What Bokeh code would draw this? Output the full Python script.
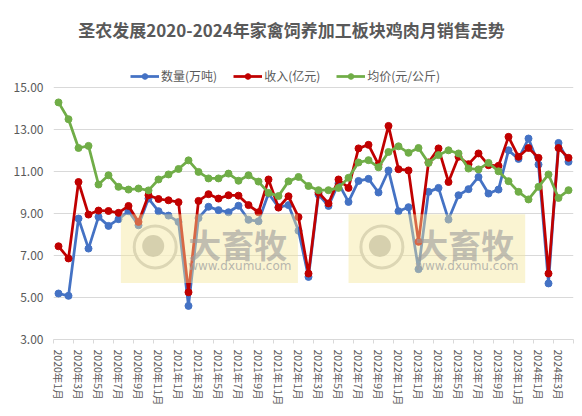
from bokeh.plotting import figure
from bokeh.models import (Range1d, FixedTicker, PrintfTickFormatter, Legend, LegendItem,
                          BoxAnnotation, Label)
from bokeh.embed import file_html
from bokeh.resources import INLINE

months = [
    "2020年1月", "2020年2月", "2020年3月", "2020年4月", "2020年5月", "2020年6月",
    "2020年7月", "2020年8月", "2020年9月", "2020年10月", "2020年11月", "2020年12月",
    "2021年1月", "2021年2月", "2021年3月", "2021年4月", "2021年5月", "2021年6月",
    "2021年7月", "2021年8月", "2021年9月", "2021年10月", "2021年11月", "2021年12月",
    "2022年1月", "2022年2月", "2022年3月", "2022年4月", "2022年5月", "2022年6月",
    "2022年7月", "2022年8月", "2022年9月", "2022年10月", "2022年11月", "2022年12月",
    "2023年1月", "2023年2月", "2023年3月", "2023年4月", "2023年5月", "2023年6月",
    "2023年7月", "2023年8月", "2023年9月", "2023年10月", "2023年11月", "2023年12月",
    "2024年1月", "2024年2月", "2024年3月", "2024年4月",
]

quantity = [5.19, 5.08, 8.76, 7.33, 8.84, 8.41, 8.73, 9.11, 8.44, 9.71, 9.11, 8.90,
            8.60, 4.60, 8.78, 9.32, 9.16, 9.06, 9.37, 8.70, 8.63, 9.95, 9.30, 9.40,
            8.18, 5.98, 9.90, 9.36, 10.43, 9.55, 10.55, 10.65, 10.00, 11.05, 9.11, 9.30,
            6.35, 10.03, 10.22, 8.71, 9.87, 10.16, 10.74, 9.95, 10.14, 12.01, 11.60, 12.57,
            11.33, 5.67, 12.36, 11.46]

revenue = [7.44, 6.86, 10.50, 8.95, 9.14, 9.12, 9.03, 9.36, 8.60, 9.87, 9.69, 9.63,
           9.54, 5.25, 9.60, 9.92, 9.71, 9.87, 9.85, 9.40, 9.06, 10.62, 9.28, 9.82,
           8.83, 6.14, 10.00, 9.48, 10.62, 10.22, 12.10, 12.27, 11.33, 13.17, 11.11, 11.05,
           7.65, 11.43, 12.10, 10.50, 11.70, 11.35, 11.86, 11.30, 11.27, 12.65, 11.70, 12.12,
           11.65, 6.14, 12.12, 11.65]

price = [14.29, 13.49, 12.12, 12.22, 10.38, 10.82, 10.27, 10.14, 10.19, 10.10, 10.62, 10.86,
         11.12, 11.53, 10.98, 10.67, 10.67, 10.90, 10.56, 10.82, 10.52, 9.98, 9.83, 10.53,
         10.74, 10.31, 10.11, 10.11, 10.22, 10.70, 11.43, 11.54, 11.20, 11.93, 12.20, 11.89,
         12.12, 11.41, 11.78, 12.01, 11.86, 11.14, 11.10, 11.41, 11.01, 10.54, 10.03, 9.67,
         10.27, 10.86, 9.74, 10.11]

series_names = ["数量(万吨)", "收入(亿元)", "均价(元/公斤)"]
title_text = "圣农发展2020-2024年家禽饲养加工板块鸡肉月销售走势"
y_ticks = [3, 5, 7, 9, 11, 13, 15]

FONT = "Noto Sans CJK SC"
GRAY = "#595959"
GRID = "#d9d9d9"
COLORS = ["#4472C4", "#C00000", "#70AD47"]

FRAME_H = 329          # frame extends above the 15.00 gridline to hold title and legend
Y_TOP = 3 + FRAME_H / 21.0
x = list(range(len(months)))

p = figure(width=574, height=408, output_backend="svg", toolbar_location=None,
           x_range=Range1d(-0.5, len(months) - 0.5), y_range=Range1d(3, Y_TOP),
           min_border_left=53, min_border_right=1, min_border_top=10,
           min_border_bottom=69, title=None)
p.outline_line_color = None
p.background_fill_color = "white"
p.border_fill_color = "white"

# x axis
xa = p.xaxis[0]
xa.ticker = FixedTicker(ticks=list(range(0, len(months), 2)),
                        minor_ticks=[k - 0.5 for k in range(0, len(months) + 1, 2)])
xa.major_label_overrides = {i: months[i] for i in range(0, len(months), 2)}
xa.major_label_orientation = "vertical"
xa.major_label_text_font = FONT
xa.major_label_text_font_size = "10.5px"
xa.major_label_text_color = GRAY
xa.major_label_standoff = 6
xa.axis_line_color = GRID
xa.major_tick_line_color = None
xa.major_tick_out = 0
xa.minor_tick_line_color = GRID
xa.minor_tick_out = 4
xa.minor_tick_in = 0

# y axis
ya = p.yaxis[0]
ya.ticker = FixedTicker(ticks=y_ticks)
ya.formatter = PrintfTickFormatter(format="%.2f")
ya.axis_line_color = None
ya.major_tick_line_color = None
ya.minor_tick_line_color = None
ya.major_tick_out = 0
ya.major_label_standoff = 10
ya.major_label_text_font = FONT
ya.major_label_text_font_size = "12px"
ya.major_label_text_color = GRAY

p.xgrid.grid_line_color = None
p.ygrid.grid_line_color = GRID
p.ygrid.grid_line_width = 1

items = []
for name, vals, col in zip(series_names, [quantity, revenue, price], COLORS):
    l = p.line(x, vals, line_color=col, line_width=2.75)
    s = p.scatter(x, vals, size=7, fill_color=col, line_color=col)
    items.append(LegendItem(label=name, renderers=[l, s]))

# watermark (decoration)
wm_boxes = [(6.24, 23.94), (29.0, 46.67)]
wm_logo_x = [9.67, 32.34]
wm_text_x = [12.97, 35.67]
for (left, right) in wm_boxes:
    p.add_layout(BoxAnnotation(left=left, right=right, bottom=5.69, top=8.97,
                               fill_color="#f3e79b", fill_alpha=0.45, line_color=None))
p.scatter(wm_logo_x, [7.41, 7.41], size=42, fill_color="white", fill_alpha=0.55,
          line_color="#c8c8c8", line_width=3, level="annotation")
p.scatter([v - 0.2 for v in wm_logo_x], [7.45, 7.45], size=22, fill_color="#a8a8a8",
          fill_alpha=0.75, line_color=None, level="annotation")
for tx in wm_text_x:
    p.add_layout(Label(x=tx, y=7.57, text="大畜牧", text_font=FONT, text_font_size="33px",
                       text_font_style="bold", text_color="#9a9a9a", text_alpha=0.6,
                       text_baseline="middle", text_align="left"))
    p.add_layout(Label(x=tx, y=6.49, text="www.dxumu.com", text_font="DejaVu Sans",
                       text_font_size="12px", text_color="#a0a0a0", text_alpha=0.75,
                       text_baseline="middle", text_align="left"))

legend = Legend(items=items, orientation="horizontal", location=(77, FRAME_H - 74),
                border_line_color=None, background_fill_alpha=0,
                label_text_font=FONT, label_text_font_size="12px", label_text_color=GRAY,
                glyph_width=29, glyph_height=14, label_height=14, label_standoff=2,
                spacing=16, padding=4, margin=0)
p.add_layout(legend, "center")

p.add_layout(Label(x=238, y=FRAME_H - 18.5, x_units="screen", y_units="screen",
                   text=title_text, text_font=FONT, text_font_size="17px",
                   text_font_style="bold", text_color=GRAY,
                   text_align="center", text_baseline="middle"))

open("out.html", "w").write(file_html(p, INLINE))
